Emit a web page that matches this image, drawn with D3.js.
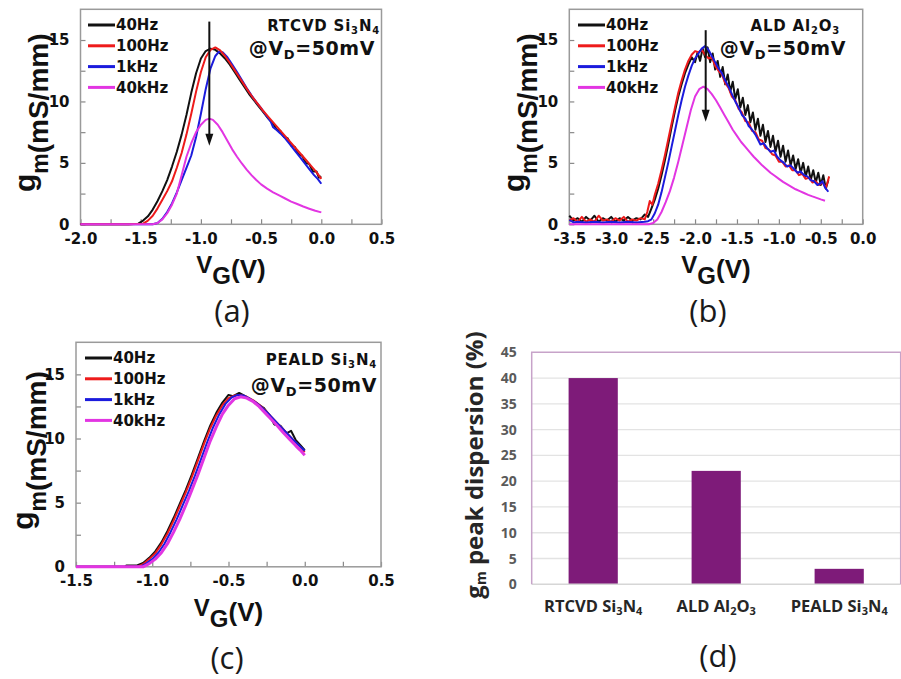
<!DOCTYPE html>
<html>
<head>
<meta charset="utf-8">
<script src="https://cdn.jsdelivr.net/npm/d3@7"></script>
<style>
  body { margin: 0; background: #fff; }
  svg { display: block; }
</style>
</head>
<body>
<svg id="fig" width="901" height="679"></svg>
<script>
// ---- data (VG in V, gm in mS/mm) ----
const freqLabels = ["40Hz", "100Hz", "1kHz", "40kHz"];
const freqColors = ["#111111", "#ee1b1b", "#1b1bdd", "#e235e2"];

// (a) RTCVD Si3N4
const a40Hz = [[-2.0,0],[-1.8,0],[-1.6,0],[-1.52,0.05],[-1.48,0.3],[-1.44,0.65],[-1.40,1.2],[-1.36,1.9],[-1.32,2.7],[-1.28,3.6],[-1.24,4.7],[-1.20,5.9],[-1.16,7.3],[-1.12,8.9],[-1.08,10.7],[-1.04,12.3],[-1.00,13.5],[-0.96,14.1],[-0.92,14.3],[-0.88,14.2],[-0.84,13.9],[-0.80,13.5],[-0.76,13.0],[-0.72,12.4],[-0.68,11.8],[-0.64,11.2],[-0.60,10.6],[-0.56,10.1],[-0.52,9.6],[-0.48,9.1],[-0.44,8.6],[-0.40,8.2],[-0.37,7.7],[-0.34,7.6],[-0.31,7.1],[-0.28,7.0],[-0.25,6.4],[-0.22,6.3],[-0.19,5.7],[-0.16,5.6],[-0.13,5.0],[-0.10,4.9],[-0.07,4.3],[-0.04,4.3],[-0.02,3.8],[0.0,3.9]];
const a100Hz = [[-2.0,0],[-1.6,0],[-1.48,0.05],[-1.44,0.3],[-1.40,0.7],[-1.36,1.3],[-1.32,2.0],[-1.28,2.7],[-1.24,3.5],[-1.20,4.6],[-1.16,5.8],[-1.12,7.3],[-1.08,9.0],[-1.04,10.8],[-1.00,12.4],[-0.96,13.6],[-0.92,14.2],[-0.88,14.4],[-0.84,14.15],[-0.80,13.7],[-0.76,13.15],[-0.72,12.55],[-0.68,11.95],[-0.64,11.35],[-0.60,10.75],[-0.56,10.2],[-0.52,9.7],[-0.48,9.2],[-0.44,8.75],[-0.40,8.3],[-0.36,7.85],[-0.32,7.4],[-0.28,6.95],[-0.24,6.5],[-0.20,6.05],[-0.16,5.6],[-0.12,5.15],[-0.08,4.7],[-0.04,4.25],[0.0,3.7]];
const a1kHz = [[-2.0,0],[-1.6,0],[-1.40,0],[-1.36,0.1],[-1.32,0.45],[-1.28,1.0],[-1.24,1.7],[-1.20,2.6],[-1.16,3.6],[-1.12,4.6],[-1.08,5.6],[-1.04,7.1],[-1.00,9.0],[-0.96,11.0],[-0.92,12.7],[-0.88,13.7],[-0.85,14.05],[-0.82,14.0],[-0.78,13.6],[-0.74,13.0],[-0.70,12.4],[-0.66,11.75],[-0.62,11.1],[-0.58,10.5],[-0.54,9.95],[-0.50,9.45],[-0.46,8.9],[-0.42,8.35],[-0.40,7.9],[-0.38,7.75],[-0.34,7.4],[-0.30,7.0],[-0.26,6.5],[-0.22,6.0],[-0.18,5.5],[-0.14,5.0],[-0.10,4.5],[-0.06,4.0],[-0.03,3.7],[0.0,3.3]];
const a40kHz = [[-2.0,0],[-1.6,0],[-1.40,0],[-1.36,0.1],[-1.32,0.4],[-1.28,0.9],[-1.24,1.6],[-1.20,2.5],[-1.16,4.0],[-1.12,5.5],[-1.08,6.6],[-1.04,7.5],[-1.00,8.1],[-0.96,8.5],[-0.93,8.6],[-0.90,8.5],[-0.86,8.1],[-0.82,7.5],[-0.78,6.8],[-0.74,6.1],[-0.70,5.5],[-0.66,4.95],[-0.62,4.45],[-0.58,4.0],[-0.54,3.6],[-0.50,3.25],[-0.45,2.9],[-0.40,2.6],[-0.35,2.35],[-0.30,2.1],[-0.25,1.85],[-0.20,1.65],[-0.15,1.45],[-0.10,1.27],[-0.05,1.1],[0.0,0.97]];
const aArrow = [[-0.93,16.5],[-0.93,6.4]];

// (b) ALD Al2O3
const b40Hz = [[-3.50,0.7],[-3.45,0.3],[-3.40,0.5],[-3.35,0.2],[-3.30,0.6],[-3.25,0.3],[-3.20,0.7],[-3.15,0.2],[-3.10,0.5],[-3.05,0.3],[-3.00,0.6],[-2.95,0.2],[-2.90,0.5],[-2.85,0.3],[-2.80,0.6],[-2.75,0.3],[-2.70,0.5],[-2.65,0.4],[-2.60,0.8],[-2.56,0.6],[-2.52,1.3],[-2.48,2.0],[-2.44,2.9],[-2.40,4.0],[-2.36,5.2],[-2.32,6.5],[-2.28,7.9],[-2.24,9.2],[-2.20,10.4],[-2.16,11.4],[-2.12,12.3],[-2.08,13.0],[-2.04,13.6],[-2.00,13.2],[-1.97,14.0],[-1.94,13.3],[-1.91,14.3],[-1.88,13.6],[-1.85,14.4],[-1.82,13.2],[-1.79,13.9],[-1.76,12.6],[-1.73,13.3],[-1.70,12.0],[-1.67,12.8],[-1.64,11.4],[-1.61,12.2],[-1.58,10.8],[-1.55,11.6],[-1.52,10.2],[-1.49,11.0],[-1.46,9.5],[-1.43,10.3],[-1.40,8.9],[-1.37,9.7],[-1.34,8.3],[-1.31,9.1],[-1.28,7.7],[-1.25,8.6],[-1.22,7.2],[-1.19,8.1],[-1.16,6.7],[-1.13,7.6],[-1.10,6.3],[-1.07,7.2],[-1.04,5.9],[-1.01,6.8],[-0.98,5.5],[-0.95,6.4],[-0.92,5.1],[-0.89,6.0],[-0.86,4.8],[-0.83,5.6],[-0.80,4.5],[-0.77,5.3],[-0.74,4.2],[-0.71,5.0],[-0.68,3.9],[-0.65,4.7],[-0.62,3.6],[-0.59,4.4],[-0.56,3.4],[-0.53,4.2],[-0.50,3.2],[-0.47,4.0],[-0.44,2.9],[-0.41,3.6]];
const b100Hz = [[-3.50,0.3],[-3.45,0.5],[-3.40,0.2],[-3.35,0.6],[-3.30,0.2],[-3.25,0.4],[-3.20,0.2],[-3.15,0.7],[-3.10,0.3],[-3.05,0.4],[-3.00,0.2],[-2.95,0.5],[-2.90,0.3],[-2.85,0.6],[-2.80,0.2],[-2.75,0.4],[-2.70,0.3],[-2.65,0.5],[-2.60,0.4],[-2.57,1.0],[-2.54,1.9],[-2.51,1.6],[-2.48,2.4],[-2.44,3.3],[-2.40,4.4],[-2.36,5.6],[-2.32,6.9],[-2.28,8.2],[-2.24,9.5],[-2.20,10.7],[-2.16,11.7],[-2.12,12.6],[-2.08,13.3],[-2.04,13.8],[-2.00,14.1],[-1.96,14.0],[-1.92,14.2],[-1.88,13.8],[-1.84,13.5],[-1.80,13.6],[-1.76,12.9],[-1.72,12.5],[-1.68,12.2],[-1.64,11.5],[-1.60,11.1],[-1.56,10.4],[-1.52,10.1],[-1.48,9.4],[-1.44,9.1],[-1.40,8.4],[-1.36,8.3],[-1.32,7.6],[-1.28,7.5],[-1.24,6.9],[-1.20,6.8],[-1.16,6.2],[-1.12,6.1],[-1.08,5.7],[-1.04,5.6],[-1.00,5.1],[-0.96,5.1],[-0.92,4.7],[-0.88,4.8],[-0.84,4.4],[-0.80,4.4],[-0.76,4.0],[-0.72,4.1],[-0.68,3.7],[-0.64,3.8],[-0.60,3.4],[-0.56,3.5],[-0.52,3.2],[-0.48,3.4],[-0.44,3.0],[-0.42,3.4],[-0.40,3.9]];
const b1kHz = [[-3.50,0.35],[-3.45,0.15],[-3.40,0.2],[-3.30,0.15],[-3.20,0.2],[-3.10,0.15],[-3.00,0.2],[-2.90,0.15],[-2.80,0.2],[-2.70,0.15],[-2.60,0.2],[-2.56,0.25],[-2.52,0.4],[-2.48,0.9],[-2.44,1.6],[-2.40,2.6],[-2.36,3.8],[-2.32,5.0],[-2.28,6.3],[-2.24,7.6],[-2.20,8.9],[-2.16,10.1],[-2.12,11.2],[-2.08,12.1],[-2.04,12.9],[-2.00,13.5],[-1.96,13.9],[-1.92,14.3],[-1.88,14.5],[-1.84,14.2],[-1.80,13.7],[-1.76,13.2],[-1.72,12.7],[-1.68,12.3],[-1.64,11.7],[-1.60,11.2],[-1.56,10.6],[-1.52,10.0],[-1.48,9.5],[-1.44,8.9],[-1.40,8.6],[-1.36,8.0],[-1.32,7.7],[-1.28,7.3],[-1.25,6.9],[-1.22,6.5],[-1.18,6.6],[-1.14,6.2],[-1.10,5.9],[-1.06,6.0],[-1.02,5.5],[-0.98,5.2],[-0.94,5.0],[-0.90,4.7],[-0.86,4.8],[-0.82,4.5],[-0.78,4.2],[-0.74,4.3],[-0.70,4.0],[-0.66,3.9],[-0.62,3.6],[-0.58,3.5],[-0.54,3.2],[-0.51,3.3],[-0.48,3.5],[-0.45,3.0],[-0.41,2.65]];
const b40kHz = [[-3.50,0],[-3.0,0],[-2.55,0],[-2.50,0.1],[-2.45,0.4],[-2.40,1.0],[-2.35,1.8],[-2.30,2.7],[-2.25,3.8],[-2.20,5.1],[-2.15,6.5],[-2.10,7.9],[-2.05,9.3],[-2.00,10.4],[-1.95,11.0],[-1.90,11.2],[-1.85,11.0],[-1.80,10.6],[-1.75,10.1],[-1.70,9.5],[-1.65,8.9],[-1.60,8.3],[-1.55,7.7],[-1.50,7.2],[-1.45,6.7],[-1.40,6.3],[-1.35,5.9],[-1.30,5.5],[-1.25,5.15],[-1.20,4.8],[-1.15,4.5],[-1.10,4.2],[-1.05,3.95],[-1.00,3.7],[-0.95,3.45],[-0.90,3.25],[-0.85,3.05],[-0.80,2.85],[-0.75,2.7],[-0.70,2.55],[-0.65,2.4],[-0.60,2.27],[-0.55,2.15],[-0.50,2.03],[-0.45,1.92]];
const bArrow = [[-1.873,15.8],[-1.873,8.35]];

// (c) PEALD Si3N4
const c40Hz = [[-1.5,0],[-1.3,0],[-1.18,0],[-1.17,0.1],[-1.12,0.1],[-1.10,0.1],[-1.06,0.3],[-1.02,0.7],[-0.98,1.2],[-0.94,1.9],[-0.90,2.8],[-0.86,3.8],[-0.82,4.9],[-0.78,6.0],[-0.74,7.2],[-0.70,8.5],[-0.66,9.8],[-0.62,11.0],[-0.58,12.0],[-0.54,12.8],[-0.50,13.4],[-0.47,13.3],[-0.43,13.55],[-0.39,13.3],[-0.35,13.0],[-0.31,12.7],[-0.27,12.4],[-0.23,11.8],[-0.20,11.1],[-0.16,11.0],[-0.12,10.4],[-0.09,10.6],[-0.06,9.9],[-0.03,9.5],[0.0,9.1]];
const c100Hz = [[-1.5,0],[-1.3,0],[-1.10,0],[-1.06,0.2],[-1.02,0.6],[-0.98,1.05],[-0.94,1.75],[-0.90,2.6],[-0.86,3.6],[-0.82,4.7],[-0.78,5.8],[-0.74,7.0],[-0.70,8.3],[-0.66,9.6],[-0.62,10.8],[-0.58,11.8],[-0.54,12.6],[-0.50,13.15],[-0.46,13.35],[-0.42,13.4],[-0.38,13.25],[-0.34,13.0],[-0.30,12.65],[-0.26,12.2],[-0.22,11.7],[-0.18,11.2],[-0.14,10.7],[-0.10,10.2],[-0.06,9.7],[-0.03,9.35],[0.0,8.95]];
const c1kHz = [[-1.5,0],[-1.3,0],[-1.08,0],[-1.04,0.25],[-1.00,0.6],[-0.96,1.1],[-0.92,1.8],[-0.88,2.7],[-0.84,3.7],[-0.80,4.8],[-0.76,5.9],[-0.72,7.1],[-0.68,8.4],[-0.64,9.7],[-0.60,10.9],[-0.56,11.9],[-0.52,12.7],[-0.48,13.2],[-0.44,13.4],[-0.40,13.35],[-0.36,13.1],[-0.32,12.8],[-0.28,12.4],[-0.24,11.95],[-0.20,11.45],[-0.16,10.95],[-0.12,10.45],[-0.08,9.95],[-0.04,9.5],[0.0,9.05]];
const c40kHz = [[-1.5,0],[-1.3,0],[-1.06,0],[-1.02,0.25],[-0.98,0.6],[-0.94,1.1],[-0.90,1.8],[-0.86,2.7],[-0.82,3.7],[-0.78,4.8],[-0.74,6.0],[-0.70,7.2],[-0.66,8.5],[-0.62,9.8],[-0.58,10.9],[-0.54,11.9],[-0.50,12.6],[-0.46,13.1],[-0.42,13.25],[-0.38,13.15],[-0.34,12.9],[-0.30,12.5],[-0.26,12.0],[-0.22,11.5],[-0.18,11.0],[-0.14,10.45],[-0.10,9.95],[-0.06,9.45],[-0.03,9.1],[0.0,8.7]];

// (d) gm peak dispersion
const dispCategories = ["RTCVD Si_3N_4", "ALD Al_2O_3", "PEALD Si_3N_4"];
const dispValues = [40, 22, 3];
const dispTicks = [0, 5, 10, 15, 20, 25, 30, 35, 40, 45];
const gmTicks = [0, 5, 10, 15];

// ---- layout ----
const curvePanels = [
    {letter: "(a)", title: "RTCVD Si_3N_4", series: [a40Hz, a100Hz, a1kHz, a40kHz], order: [0, 2, 1, 3], arrow: aArrow,
     xDomain: [-2, 0.5], xRange: [80.5, 381.5], yRange: [224.3, 9.3],
     legendX: 88, legendY: 25, titleX: 380, titleY: 31, vdX: 375, vdY: 55,
     yLabelX: 35, labelCx: 232, letterY: 322, magentaWidth: 2},
    {letter: "(b)", title: "ALD Al_2O_3", series: [b40Hz, b100Hz, b1kHz, b40kHz], order: [0, 1, 2, 3], arrow: bArrow,
     xDomain: [-3.5, 0], xRange: [569.3, 862.7], yRange: [224.3, 9.3],
     legendX: 578, legendY: 25, titleX: 840, titleY: 31, vdX: 846, vdY: 55,
     yLabelX: 524, labelCx: 708, letterY: 322, magentaWidth: 2},
    {letter: "(c)", title: "PEALD Si_3N_4", series: [c40Hz, c100Hz, c1kHz, c40kHz], order: [0, 1, 2, 3], arrow: null,
     xDomain: [-1.5, 0.5], xRange: [76, 381], yRange: [566.8, 342.3],
     legendX: 85, legendY: 358, titleX: 377, titleY: 365, vdX: 377, vdY: 392,
     yLabelX: 33, labelCx: 227, letterY: 669, magentaWidth: 3}
];

const svg = d3.select("#fig");

// text with "_x" subscripts
function richText(sel, str, size, subSize, shift) {
    let cur = 0;
    str.split(/_(.)/).forEach(function (part, i) {
        if (!part) return;
        const target = i % 2 === 1 ? shift : 0;
        sel.append("tspan")
            .attr("font-size", i % 2 === 1 ? subSize : size)
            .attr("dy", target - cur)
            .text(part);
        cur = target;
    });
    return sel;
}

function drawCurvePanel(p) {
    const g = svg.append("g");
    const x = d3.scaleLinear().domain(p.xDomain).range(p.xRange);
    const y = d3.scaleLinear().domain([0, 17.5]).range(p.yRange);

    const xTicks = d3.range(p.xDomain[0], p.xDomain[1] + 1e-9, 0.25);
    const yTicks = d3.range(0, 17.5, 2.5);

    const xAxis = d3.axisBottom(x).tickValues(xTicks).tickSizeInner(-5).tickSizeOuter(0).tickPadding(9)
        .tickFormat(function (d) { return Math.abs(d * 2 - Math.round(d * 2)) < 1e-6 ? d.toFixed(1) : ""; });
    const yAxis = d3.axisLeft(y).tickValues(yTicks).tickSizeInner(-5).tickSizeOuter(0).tickPadding(11)
        .tickFormat(function (d) { return gmTicks.includes(d) ? d : ""; });

    const gx = g.append("g").attr("transform", "translate(0," + p.yRange[0] + ")").call(xAxis);
    const gy = g.append("g").attr("transform", "translate(" + p.xRange[0] + ",0)").call(yAxis);
    [gx, gy].forEach(function (ax) {
        ax.select(".domain").remove();
        ax.selectAll(".tick line").attr("stroke", "#888").attr("stroke-width", 1.2);
        ax.selectAll(".tick text").attr("font-family", "'DejaVu Sans', sans-serif")
            .attr("font-weight", "bold").attr("font-size", 15).attr("fill", "#111");
    });

    // frame
    g.append("rect")
        .attr("x", p.xRange[0]).attr("y", p.yRange[1])
        .attr("width", p.xRange[1] - p.xRange[0]).attr("height", p.yRange[0] - p.yRange[1])
        .attr("fill", "none").attr("stroke", "#9a9a9a").attr("stroke-width", 1.5);

    // curves
    const line = d3.line().x(function (d) { return x(d[0]); }).y(function (d) { return y(d[1]); });
    p.order.forEach(function (i) {
        g.append("path").datum(p.series[i])
            .attr("d", line)
            .attr("fill", "none")
            .attr("stroke", freqColors[i])
            .attr("stroke-width", i === 3 ? p.magentaWidth : 2)
            .attr("stroke-linejoin", "round");
    });

    // arrow
    if (p.arrow) {
        const x0 = x(p.arrow[0][0]), y0 = y(p.arrow[0][1]), y1 = y(p.arrow[1][1]);
        g.append("line").attr("x1", x0).attr("x2", x0).attr("y1", y0).attr("y2", y1 - 8)
            .attr("stroke", "#111").attr("stroke-width", 2);
        g.append("path").attr("d", "M" + (x0 - 4) + "," + (y1 - 12) + "L" + (x0 + 4) + "," + (y1 - 12) + "L" + x0 + "," + y1 + "Z")
            .attr("fill", "#111");
    }

    // legend
    freqLabels.forEach(function (lab, i) {
        const ly = p.legendY + i * 20.8;
        g.append("line").attr("x1", p.legendX).attr("x2", p.legendX + 27).attr("y1", ly).attr("y2", ly)
            .attr("stroke", freqColors[i]).attr("stroke-width", 3);
        g.append("text").attr("x", p.legendX + 28).attr("y", ly).attr("dy", "0.36em")
            .attr("font-family", "'DejaVu Sans', sans-serif").attr("font-weight", "bold")
            .attr("font-size", 15).attr("fill", "#111").text(lab);
    });

    // annotation
    richText(g.append("text").attr("x", p.titleX).attr("y", p.titleY).attr("text-anchor", "end")
        .attr("font-family", "'DejaVu Sans', sans-serif").attr("font-weight", "bold")
        .attr("letter-spacing", 0.8).attr("fill", "#111"), p.title, 15, 10, 3);
    richText(g.append("text").attr("x", p.vdX).attr("y", p.vdY).attr("text-anchor", "end")
        .attr("font-family", "'DejaVu Sans', sans-serif").attr("font-weight", "bold")
        .attr("letter-spacing", 0.6).attr("fill", "#111"), "@V_D=50mV", 19, 13, 4);

    // y title: g raised, m and (mS/mm) on the lower baseline
    const cy = (p.yRange[0] + p.yRange[1]) / 2 - 4;
    const yt = g.append("text").attr("transform", "translate(" + p.yLabelX + "," + cy + ") rotate(-90)")
        .attr("text-anchor", "middle").attr("font-family", "'Liberation Sans', Arial, sans-serif")
        .attr("font-weight", "bold").attr("fill", "#111");
    yt.append("tspan").attr("font-size", 30).text("g");
    yt.append("tspan").attr("font-size", 23).attr("dy", 13).text("m");
    yt.append("tspan").attr("font-size", 28).text("(mS/mm)");

    // x title
    const cx = (p.xRange[0] + p.xRange[1]) / 2;
    const xt = g.append("text").attr("x", cx).attr("y", p.yRange[0] + 49)
        .attr("text-anchor", "middle").attr("font-family", "'Liberation Sans', Arial, sans-serif")
        .attr("font-weight", "bold").attr("fill", "#111");
    xt.append("tspan").attr("font-size", 24).text("V");
    xt.append("tspan").attr("font-size", 24).attr("dy", 11).text("G");
    xt.append("tspan").attr("font-size", 26).attr("dy", -6).text("(V)");

    // panel letter
    g.append("text").attr("x", p.labelCx).attr("y", p.letterY).attr("text-anchor", "middle")
        .attr("font-family", "'Open Sans', sans-serif").attr("font-size", 31).attr("fill", "#1a1a1a").text(p.letter);
}

curvePanels.forEach(drawCurvePanel);

// ---- (d) bar chart ----
(function drawBars() {
    const g = svg.append("g");
    const left = 531.7, right = 900.7, top = 352.3, bottom = 584.3;
    const x = d3.scaleBand().domain(dispCategories).range([left, right]).paddingInner(0.6).paddingOuter(0.3);
    const y = d3.scaleLinear().domain([0, 45]).range([bottom, top]);

    g.append("g").selectAll("line").data(dispTicks.filter(function (d) { return d > 0 && d < 45; }))
        .enter().append("line")
        .attr("x1", left).attr("x2", right).attr("y1", y).attr("y2", y)
        .attr("stroke", "#e3e3e3").attr("stroke-width", 1.3);

    const gy = g.append("g").attr("transform", "translate(" + left + ",0)")
        .call(d3.axisLeft(y).tickValues(dispTicks).tickSize(0).tickPadding(15));
    gy.select(".domain").remove();
    gy.selectAll(".tick text").attr("font-family", "'Open Sans', sans-serif").attr("font-weight", "bold")
        .attr("font-size", 14).attr("fill", "#5a5a5a");

    g.selectAll("rect.bar").data(dispValues).enter().append("rect")
        .attr("class", "bar")
        .attr("x", function (d, i) { return x(dispCategories[i]); })
        .attr("width", x.bandwidth())
        .attr("y", function (d) { return y(d); })
        .attr("height", function (d) { return y(0) - y(d); })
        .attr("fill", "#7e1b79");

    g.append("line").attr("x1", left).attr("x2", right).attr("y1", y(0)).attr("y2", y(0))
        .attr("stroke", "#d6d6d6").attr("stroke-width", 1.5);
    g.append("path").attr("d", "M" + left + "," + y(0) + "V" + top + "H" + right + "V" + y(0))
        .attr("fill", "none").attr("stroke", "#c7a3c9").attr("stroke-width", 1.5);

    dispCategories.forEach(function (c) {
        richText(g.append("text").attr("x", x(c) + x.bandwidth() / 2).attr("y", 611.5)
            .attr("text-anchor", "middle").attr("font-family", "'Open Sans', sans-serif").attr("font-weight", "bold")
            .attr("fill", "#262626"), c, 16.5, 11, 3);
    });

    const yt = g.append("text").attr("transform", "translate(483,465) rotate(-90)")
        .attr("text-anchor", "middle").attr("font-family", "'Open Sans', sans-serif").attr("font-weight", "bold")
        .attr("fill", "#262626");
    richText(yt, "g_m peak dispersion (%)", 24, 14, 3);

    g.append("text").attr("x", 718).attr("y", 667).attr("text-anchor", "middle")
        .attr("font-family", "'Open Sans', sans-serif").attr("font-size", 31).attr("fill", "#1a1a1a").text("(d)");
})();
</script>
</body>
</html>
